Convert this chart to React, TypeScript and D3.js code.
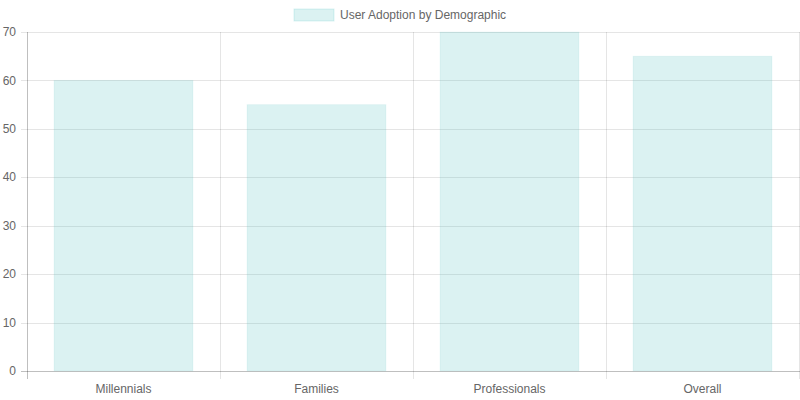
import React from "react";
import * as d3 from "d3";

const categories = ["Millennials", "Families", "Professionals", "Overall"];
const adoption = [60, 55, 70, 65];
const yTicks = [0, 10, 20, 30, 40, 50, 60, 70];
const legendLabel = "User Adoption by Demographic";

const W = 800;
const H = 400;
const left = 27;
const right = 799;
const top = 32;
const bottom = 371;
const FONT = "'Liberation Sans', Arial, Helvetica, sans-serif";

export default function App() {
  const x = d3.scaleBand<string>().domain(categories).range([left, right]).paddingInner(0).paddingOuter(0);
  const y = d3.scaleLinear().domain([0, 70]).range([bottom, top]);
  const bw = x.bandwidth();
  const barW = bw * 0.8 * 0.9;
  const grid = "rgba(0,0,0,0.1)";
  const gridLinesX = [...categories.map((c) => x(c)!), right];

  return (
    <svg
      width={W}
      height={H}
      style={{ position: "absolute", left: 0, top: 0 }}
      fontFamily={FONT}
    >
      <rect x={0} y={0} width={W} height={H} fill="#fff" />
      {/* legend */}
      <rect x={294} y={9} width={40} height={12} fill="rgba(75,192,192,0.2)" stroke="rgba(75,192,192,0.2)" strokeWidth={1} />
      <text x={340} y={15} dy="0.35em" fontSize={12} fill="#666">
        {legendLabel}
      </text>
      {/* horizontal grid */}
      {yTicks.map((t) => (
        <g key={t}>
          <line x1={left - 6} x2={W} y1={Math.round(y(t)) + 0.5} y2={Math.round(y(t)) + 0.5} stroke={t === 0 ? "rgba(0,0,0,0.25)" : grid} />
          <text x={16} y={y(t)} dy="0.35em" textAnchor="end" fontSize={12} fill="#666">
            {t}
          </text>
        </g>
      ))}
      {/* vertical grid */}
      {gridLinesX.map((gx, i) => (
        <line
          key={i}
          x1={Math.round(gx) + 0.5}
          x2={Math.round(gx) + 0.5}
          y1={top}
          y2={bottom + 8}
          stroke={i === 0 ? "rgba(0,0,0,0.25)" : grid}
        />
      ))}
      {/* bars */}
      {categories.map((c, i) => {
        const cx = x(c)! + bw / 2;
        return (
          <rect
            key={c}
            x={cx - barW / 2}
            y={y(adoption[i])}
            width={barW}
            height={y(0) - y(adoption[i])}
            fill="rgba(75,192,192,0.2)"
            stroke="rgba(75,192,192,0.08)"
            strokeWidth={1}
          />
        );
      })}
      {/* x labels */}
      {categories.map((c) => (
        <text key={c} x={x(c)! + bw / 2} y={389} dy="0.35em" textAnchor="middle" fontSize={12} fill="#666">
          {c}
        </text>
      ))}
    </svg>
  );
}
